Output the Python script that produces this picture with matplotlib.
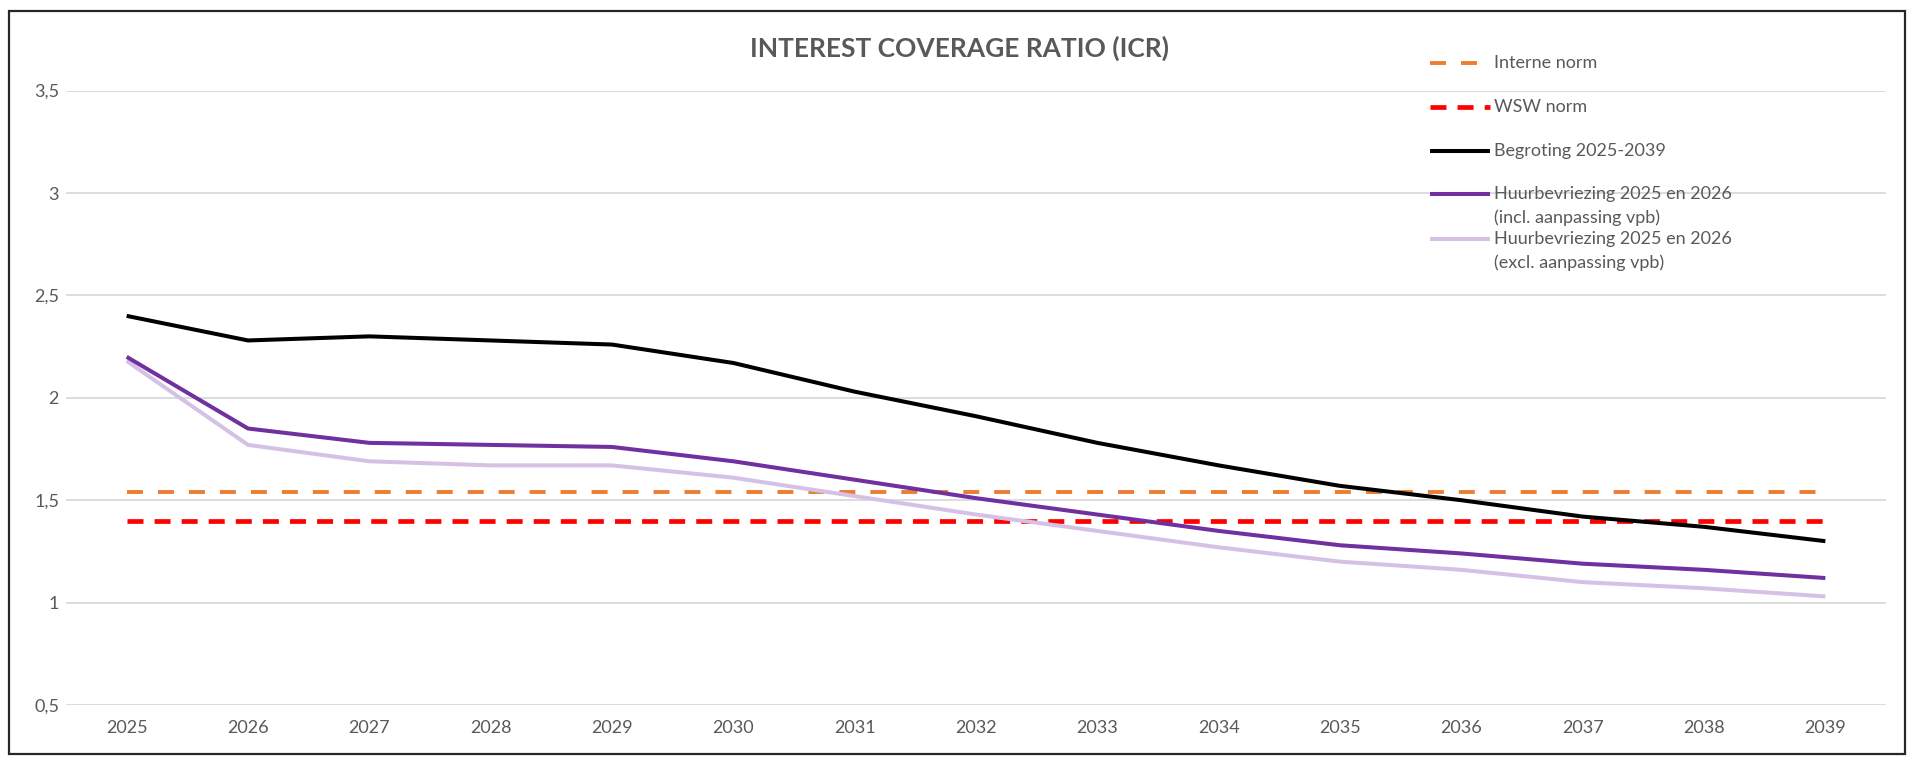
import matplotlib
matplotlib.use("Agg")
from matplotlib import pyplot as plt
from matplotlib.lines import Line2D
from matplotlib.patches import Rectangle

# data
years = list(range(2025, 2040))
begroting = [2.40, 2.28, 2.30, 2.28, 2.26, 2.17, 2.03, 1.91, 1.78, 1.67, 1.57, 1.50, 1.42, 1.37, 1.30]
huur_incl = [2.20, 1.85, 1.78, 1.77, 1.76, 1.69, 1.60, 1.51, 1.43, 1.35, 1.28, 1.24, 1.19, 1.16, 1.12]
huur_excl = [2.18, 1.77, 1.69, 1.67, 1.67, 1.61, 1.52, 1.43, 1.35, 1.27, 1.20, 1.16, 1.10, 1.07, 1.03]
interne_norm = [1.54] * len(years)
wsw_norm = [1.40] * len(years)

yticks = [0.5, 1, 1.5, 2, 2.5, 3, 3.5]
ytick_labels = ["0,5", "1", "1,5", "2", "2,5", "3", "3,5"]

title = "INTEREST COVERAGE RATIO (ICR)"
labels = ["Interne norm", "WSW norm", "Begroting 2025-2039",
          "Huurbevriezing 2025 en 2026\n(incl. aanpassing vpb)",
          "Huurbevriezing 2025 en 2026\n(excl. aanpassing vpb)"]

plt.rcParams['font.family'] = ['Lato', 'DejaVu Sans']
grey = '#595959'

W, H = 1920, 760
fig = plt.figure(figsize=(W / 100, H / 100), dpi=100)
ax = fig.add_axes([66 / W, 1 - 705 / H, (1886 - 66) / W, (705 - 90.6) / H])

# (colour, linewidth, dash on/off in points or None)
styles = [('#ed7d31', 2.8, (11.5, 10.8)),
          ('#ff0000', 3.4, (11.5, 8.0)),
          ('#000000', 2.9, None),
          ('#7030a0', 2.9, None),
          ('#d5c1e6', 2.9, None)]
series = [interne_norm, wsw_norm, begroting, huur_incl, huur_excl]
zorders = [3, 3, 6, 5, 4]

def make_line(x, y, style, **kw):
    c, lw, d = style
    ln = Line2D(x, y, color=c, lw=lw, solid_capstyle='butt', dash_capstyle='butt', **kw)
    if d is not None:
        ln.set_dashes((d[0] / lw, d[1] / lw))
    return ln

for vals, st, z in zip(series, styles, zorders):
    ln = make_line(years, vals, st, zorder=z)
    ax.add_line(ln)

ax.set_xlim(2024.5, 2039.5)
ax.set_ylim(0.5, 3.5)
ax.set_xticks(years)
ax.set_xticklabels([str(y) for y in years])
ax.set_yticks(yticks)
ax.set_yticklabels(ytick_labels)
ax.tick_params(axis='both', length=0, labelsize=13, labelcolor=grey)
ax.tick_params(axis='x', pad=11)
ax.tick_params(axis='y', pad=5)
for s in ax.spines.values():
    s.set_visible(False)
ax.grid(axis='y', color='#d9d9d9', lw=1.3)
ax.set_axisbelow(True)

fig.text(0.5, 1 - 48 / H, title, ha='center', va='center',
         fontsize=19, fontweight='bold', color=grey)

# legend drawn by hand, Excel-style
leg_y = [63, 107, 151, 194, 239]
for lab, st, y in zip(labels, styles, leg_y):
    fig.add_artist(make_line([1430 / W, 1490 / W], [1 - y / H, 1 - y / H], st,
                             transform=fig.transFigure))
    for k, part in enumerate(lab.split('\n')):
        fig.text(1494 / W, 1 - (y + 24 * k) / H, part, ha='left', va='center',
                 fontsize=13, color=grey)

fig.add_artist(Rectangle((9 / W, 1 - 754 / H), (1905 - 9) / W, (754 - 11) / H,
                         transform=fig.transFigure, fill=False,
                         edgecolor='#262626', lw=1.6))

fig.savefig('out.png', dpi=100, facecolor='white')
